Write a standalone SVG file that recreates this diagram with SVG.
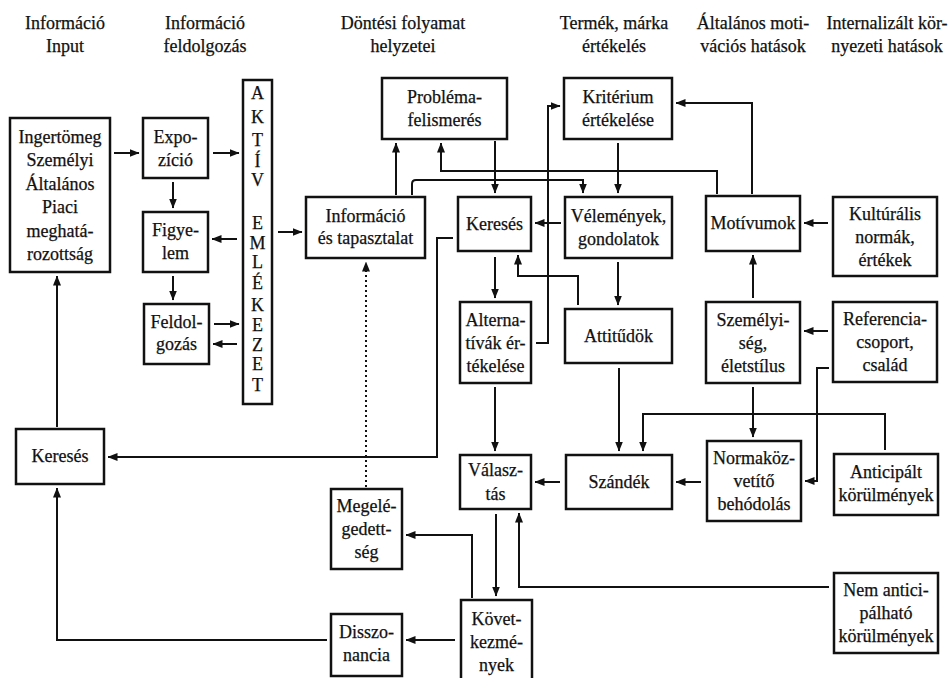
<svg xmlns="http://www.w3.org/2000/svg" width="950" height="678" viewBox="0 0 950 678">
<defs>
<marker id="ah" viewBox="0 0 10 8" refX="9.5" refY="4" markerWidth="10" markerHeight="8" markerUnits="userSpaceOnUse" orient="auto"><path d="M0,0 L10,4 L0,8 z" fill="#111"/></marker>
<style>
.box{fill:#fff;stroke:#111;stroke-width:2.5}
.t{font-family:'Liberation Serif','Tinos','Times New Roman','DejaVu Serif',serif;font-size:18px;fill:#111;stroke:#111;stroke-width:0.25;text-anchor:middle}
.c{fill:none;stroke:#111;stroke-width:2;marker-end:url(#ah)}
.d{stroke-dasharray:2 3}
</style>
</defs>
<rect width="950" height="678" fill="#fff"/>

<g id="headers" class="t" font-family="Liberation Serif, serif">
<text x="65" y="29">Információ</text><text x="65" y="52">Input</text>
<text x="205" y="29">Információ</text><text x="205" y="52">feldolgozás</text>
<text x="403" y="29">Döntési folyamat</text><text x="403" y="52">helyzetei</text>
<text x="614" y="29">Termék, márka</text><text x="614" y="52">értékelés</text>
<text x="753" y="29">Általános moti-</text><text x="753" y="52">vációs hatások</text>
<text x="887" y="29">Internalizált kör-</text><text x="887" y="52">nyezeti hatások</text>
</g>

<g id="connectors">
<path class="c" d="M114,153 H139"/>
<path class="c" d="M213,153 H239"/>
<path class="c" d="M173,182 V208"/>
<path class="c" d="M173,276 V300"/>
<path class="c" d="M237,239 H212"/>
<path class="c" d="M214,324 H239"/>
<path class="c" d="M237,344 H213"/>
<path class="c" d="M278,232 H302"/>
<path class="c" d="M57,427 V276"/>
<path class="c" d="M327,640 H57 V488"/>
<path class="c" d="M396,195 V143"/>
<path class="c" d="M412,195 V184 Q412,180 416,180 H583 V193"/>
<path class="c" d="M717,194 V171 H441 V143"/>
<path class="c" d="M752,194 V103 H676"/>
<path class="c" d="M495,141 V193"/>
<path class="c" d="M618,143 V193"/>
<path class="c" d="M561,223 H535"/>
<path class="c" d="M536,343 H548 V106 H560"/>
<path class="c" d="M495,257 V298"/>
<path class="c" d="M578,305 V276 H518 V255"/>
<path class="c" d="M618,262 V305"/>
<path class="c" d="M453,238 H437 V457 H108"/>
<path class="c" d="M495,387 V451"/>
<path class="c" d="M619,368 V451"/>
<path class="c" d="M753,387 V437"/>
<path class="c" d="M753,298 V255"/>
<path class="c" d="M828,223 H804"/>
<path class="c" d="M828,331 H804"/>
<path class="c" d="M829,368 H817 V481 H805"/>
<path class="c" d="M885,450 V414 H643 V451"/>
<path class="c" d="M701,482 H676"/>
<path class="c" d="M560,482 H535"/>
<path class="c" d="M496,514 V596"/>
<path class="c" d="M829,587 H519 V513"/>
<path class="c" d="M472,598 V535 H406"/>
<path class="c" d="M455,640 H406"/>
<path class="c d" d="M366,487 V262"/>
</g>

<g id="n-ingertomeg"><rect class="box" x="10" y="118" width="100" height="154"/>
<text class="t" x="60" y="143">Ingertömeg</text><text class="t" x="60" y="166">Személyi</text><text class="t" x="60" y="190">Általános</text><text class="t" x="60" y="213">Piaci</text><text class="t" x="60" y="237">meghatá-</text><text class="t" x="60" y="260">rozottság</text></g>

<g id="n-expozicio"><rect class="box" x="143" y="118" width="65" height="60"/>
<text class="t" x="175.5" y="143">Expo-</text><text class="t" x="175.5" y="166">zíció</text></g>

<g id="n-figyelem"><rect class="box" x="143" y="212" width="65" height="60"/>
<text class="t" x="175.5" y="236">Figye-</text><text class="t" x="175.5" y="259">lem</text></g>

<g id="n-feldolgozas"><rect class="box" x="144" y="304" width="65" height="60"/>
<text class="t" x="176.5" y="328">Feldol-</text><text class="t" x="176.5" y="350">gozás</text></g>

<g id="n-memoria"><rect class="box" x="243" y="80" width="29" height="324"/>
<text class="t" x="257.5" y="99">A</text><text class="t" x="257.5" y="123">K</text><text class="t" x="257.5" y="146">T</text><text class="t" x="257.5" y="167">Í</text><text class="t" x="257.5" y="186">V</text>
<text class="t" x="257.5" y="229">E</text><text class="t" x="257.5" y="249">M</text><text class="t" x="257.5" y="268">L</text><text class="t" x="257.5" y="289">É</text><text class="t" x="257.5" y="311">K</text><text class="t" x="257.5" y="331">E</text><text class="t" x="257.5" y="351">Z</text><text class="t" x="257.5" y="370">E</text><text class="t" x="257.5" y="391">T</text></g>

<g id="n-info"><rect class="box" x="306" y="197" width="119" height="61"/>
<text class="t" x="365.5" y="222">Információ</text><text class="t" x="365.5" y="244">és tapasztalat</text></g>

<g id="n-problema"><rect class="box" x="382" y="78" width="125" height="61"/>
<text class="t" x="444.5" y="103">Probléma-</text><text class="t" x="444.5" y="126">felismerés</text></g>

<g id="n-kriterium"><rect class="box" x="564" y="78" width="108" height="61"/>
<text class="t" x="618" y="103">Kritérium</text><text class="t" x="618" y="126">értékelése</text></g>

<g id="n-kereses"><rect class="box" x="458" y="197" width="73" height="54"/>
<text class="t" x="494.5" y="230">Keresés</text></g>

<g id="n-velemenyek"><rect class="box" x="565" y="197" width="107" height="61"/>
<text class="t" x="618.5" y="222">Vélemények,</text><text class="t" x="618.5" y="245">gondolatok</text></g>

<g id="n-motivumok"><rect class="box" x="706" y="196" width="94" height="55"/>
<text class="t" x="753" y="229">Motívumok</text></g>

<g id="n-kulturalis"><rect class="box" x="833" y="197" width="104" height="79"/>
<text class="t" x="885" y="220">Kultúrális</text><text class="t" x="885" y="243">normák,</text><text class="t" x="885" y="266">értékek</text></g>

<g id="n-alternativak"><rect class="box" x="460" y="302" width="71" height="81"/>
<text class="t" x="495.5" y="326">Alterna-</text><text class="t" x="495.5" y="349">tívák ér-</text><text class="t" x="495.5" y="372">tékelése</text></g>

<g id="n-attitudok"><rect class="box" x="565" y="309" width="107" height="54"/>
<text class="t" x="618.5" y="342">Attitűdök</text></g>

<g id="n-szemelyiseg"><rect class="box" x="706" y="302" width="94" height="81"/>
<text class="t" x="753" y="326">Személyi-</text><text class="t" x="753" y="349">ség,</text><text class="t" x="753" y="372">életstílus</text></g>

<g id="n-referencia"><rect class="box" x="833" y="302" width="104" height="80"/>
<text class="t" x="885" y="325">Referencia-</text><text class="t" x="885" y="348">csoport,</text><text class="t" x="885" y="371">család</text></g>

<g id="n-kereses2"><rect class="box" x="16" y="429" width="88" height="55"/>
<text class="t" x="60" y="462">Keresés</text></g>

<g id="n-valasztas"><rect class="box" x="460" y="455" width="71" height="54"/>
<text class="t" x="495.5" y="476">Válasz-</text><text class="t" x="495.5" y="500">tás</text></g>

<g id="n-szandek"><rect class="box" x="566" y="455" width="106" height="54"/>
<text class="t" x="619" y="488">Szándék</text></g>

<g id="n-normakozvetito"><rect class="box" x="707" y="441" width="94" height="80"/>
<text class="t" x="754" y="464">Normaköz-</text><text class="t" x="754" y="487">vetítő</text><text class="t" x="754" y="510">behódolás</text></g>

<g id="n-anticipalt"><rect class="box" x="834" y="454" width="104" height="61"/>
<text class="t" x="886" y="478">Anticipált</text><text class="t" x="886" y="501">körülmények</text></g>

<g id="n-megelegedettseg"><rect class="box" x="331" y="489" width="71" height="80"/>
<text class="t" x="366.5" y="512">Megelé-</text><text class="t" x="366.5" y="535">gedett-</text><text class="t" x="366.5" y="558">ség</text></g>

<g id="n-disszonancia"><rect class="box" x="331" y="614" width="71" height="62"/>
<text class="t" x="366.5" y="638">Disszo-</text><text class="t" x="366.5" y="661">nancia</text></g>

<g id="n-kovetkezmenyek"><rect class="box" x="461" y="600" width="71" height="84"/>
<text class="t" x="496.5" y="625">Követ-</text><text class="t" x="496.5" y="648">kezmé-</text><text class="t" x="496.5" y="671">nyek</text></g>

<g id="n-nemanticipalt"><rect class="box" x="834" y="573" width="104" height="80"/>
<text class="t" x="886" y="596">Nem antici-</text><text class="t" x="886" y="619">pálható</text><text class="t" x="886" y="642">körülmények</text></g>
</svg>
